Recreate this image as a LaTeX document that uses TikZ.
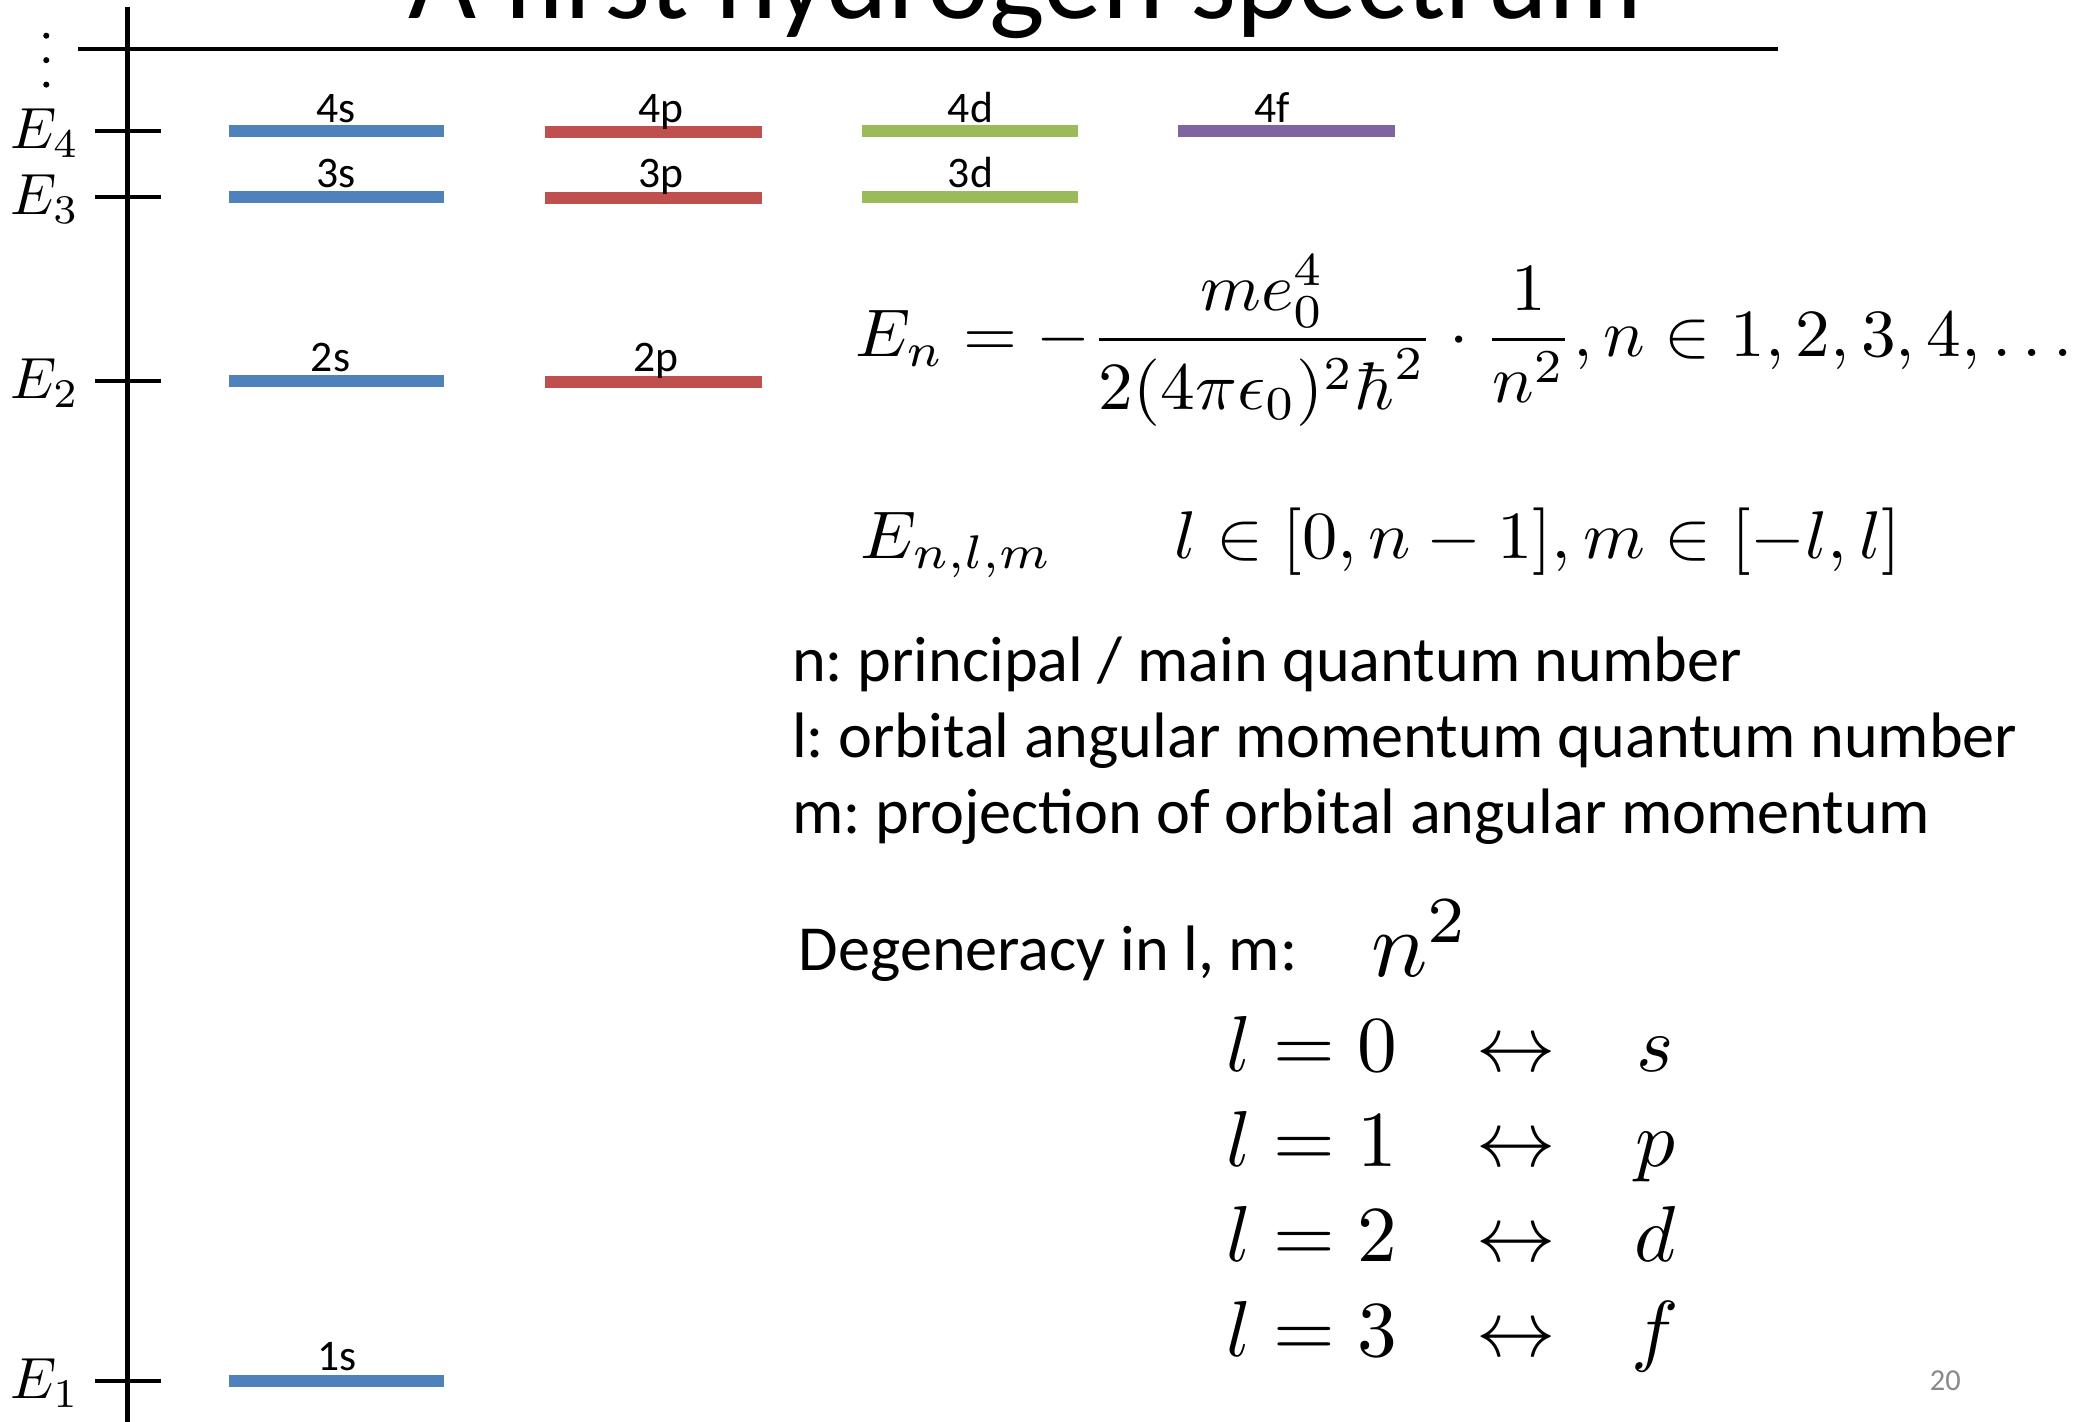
\documentclass[tikz,border=0pt]{standalone}
\usepackage[no-math]{fontspec}
\setmainfont{Carlito}
\definecolor{lvblue}{HTML}{4F81BD}
\definecolor{lvred}{HTML}{C0504D}
\definecolor{lvgreen}{HTML}{9BBB59}
\definecolor{lvpurple}{HTML}{8064A2}
\definecolor{pgnum}{HTML}{898989}
\frenchspacing
\begin{document}
\begin{tikzpicture}[x=1pt,y=-1pt,
  lvl/.style={line width=9.3pt},
  tickmark/.style={line width=3pt},
  lvlab/.style={anchor=base,inner sep=0pt,font=\fontsize{33}{40}\selectfont},
  mth/.style={inner sep=0pt,font=\fontsize{10}{12}\selectfont,transform shape},
  elab/.style={mth,anchor=base west,scale=4.4},
  body/.style={anchor=base west,inner sep=0pt,font=\fontsize{48.6}{58}\selectfont},
  eqn/.style={mth,anchor=base west,scale=5.1},
  tabw/.style={mth,anchor=base west,scale=6},
  tabc/.style={mth,anchor=base,scale=6},
]
\useasboundingbox (0,0) rectangle (1568,1075);
\clip (0,0) rectangle (1568,1075);

% title
\node[anchor=base west,inner sep=0pt,font=\fontsize{88.9}{100}\selectfont] (title) at (309,14) {A first hydrogen spectrum};
\draw[line width=3pt] (59,36.8) -- (1345,36.8);

% energy axis
\draw[line width=3.5pt] (96.5,5) -- (96.5,1080);
\fill (35,27) circle (2.3);
\fill (35,45.5) circle (2.3);
\fill (35,64) circle (2.3);

\draw[tickmark] (72,99.2) -- (122,99.2);
\draw[tickmark] (72,148.8) -- (122,148.8);
\draw[tickmark] (72,288) -- (122,288);
\draw[tickmark] (72,1044.6) -- (122,1044.6);
\node[elab] (E4) at (7,112.5) {$E_4$};
\node[elab] (E3) at (7,162.2) {$E_3$};
\node[elab] (E2) at (7,301.5) {$E_2$};
\node[elab] (E1) at (7,1058) {$E_1$};

% levels
\draw[lvl,lvblue] (173,99.2) -- (336,99.2);
\draw[lvl,lvblue] (173,148.8) -- (336,148.8);
\draw[lvl,lvblue] (173,288) -- (336,288);
\draw[lvl,lvblue] (173,1044.6) -- (336,1044.6);
\draw[lvl,lvred] (412,100) -- (576,100);
\draw[lvl,lvred] (412,149.6) -- (576,149.6);
\draw[lvl,lvred] (412,288.8) -- (576,288.8);
\draw[lvl,lvgreen] (652,99.2) -- (815.5,99.2);
\draw[lvl,lvgreen] (652,148.8) -- (815.5,148.8);
\draw[lvl,lvpurple] (891,99.2) -- (1055,99.2);

\node[lvlab] (l4s) at (254,93) {4s};
\node[lvlab] (l3s) at (254,141.5) {3s};
\node[lvlab] (l2s) at (250,281) {2s};
\node[lvlab] (l1s) at (255,1036.5) {1s};
\node[lvlab] (l4p) at (500,93) {4p};
\node[lvlab] (l3p) at (500,141.5) {3p};
\node[lvlab] (l2p) at (496,281) {2p};
\node[lvlab] (l4d) at (734,93) {4d};
\node[lvlab] (l3d) at (734,141.5) {3d};
\node[lvlab] (l4f) at (962,93) {4f};

% formulas
\node[eqn,xscale=1.028] (en) at (646,269.3) {$\displaystyle E_n = -\frac{me_0^4}{2(4\pi\epsilon_0)^2\hbar^2}\cdot\frac{1}{n^2}, n\in 1,2,3,4,\ldots$};
\node[eqn,xscale=1.045] (enlm) at (650,422.3) {$E_{n,l,m}$};
\node[eqn,xscale=1.045] (lrange) at (887,422.3) {$l\in[0,n-1], m\in[-l,l]$};

% text
\node[body] (tn) at (599,515.6) {n: principal / main quantum number};
\node[body] (tl) at (599,572.8) {l: orbital angular momentum quantum number};
\node[body] (tm) at (599,630.3) {m: projection of orbital angular momentum};
\node[body] (tdeg) at (604,733.7) {Degeneracy in l, m:};
\node[mth,anchor=base west,scale=7.1] (n2) at (1036,738.8) {$n^2$};

% table
\node[tabw] (r0a) at (926.5,810.7) {$l=0$};
\node[tabc] (r0b) at (1147,810.7) {$\leftrightarrow$};
\node[tabc] (r0c) at (1252,810.7) {$s$};
\node[tabw] (r1a) at (926.5,882.6) {$l=1$};
\node[tabc] (r1b) at (1147,882.6) {$\leftrightarrow$};
\node[tabc] (r1c) at (1252,882.6) {$p$};
\node[tabw] (r2a) at (926.5,954.5) {$l=2$};
\node[tabc] (r2b) at (1147,954.5) {$\leftrightarrow$};
\node[tabc] (r2c) at (1252,954.5) {$d$};
\node[tabw] (r3a) at (926.5,1026.4) {$l=3$};
\node[tabc] (r3b) at (1147,1026.4) {$\leftrightarrow$};
\node[tabc] (r3c) at (1252,1026.4) {$f$};

% page number
\node[anchor=base west,inner sep=0pt,font=\fontsize{23}{28}\selectfont,text=pgnum] (pg) at (1459.5,1051.5) {20};
\end{tikzpicture}
\end{document}
